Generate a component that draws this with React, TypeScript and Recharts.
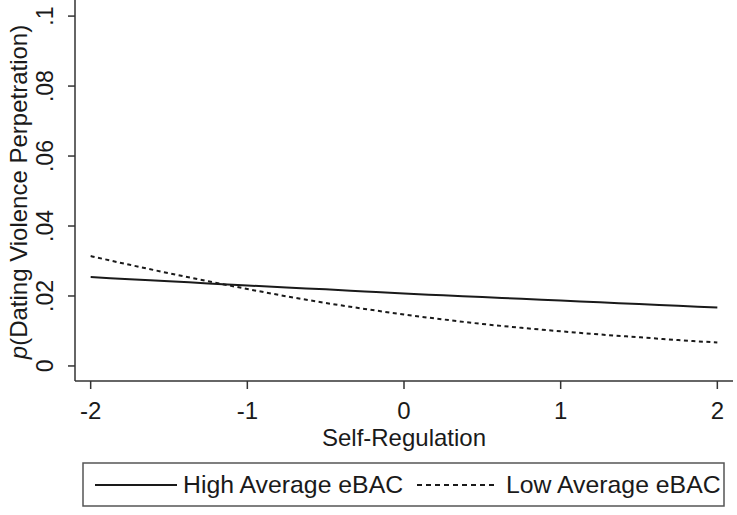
import React from 'react';
import { LineChart, Line, XAxis, YAxis, Legend, Label } from 'recharts';

// Self-regulation values (x) and predicted probabilities for the two groups
const selfRegulation = [-2, -1.75, -1.5, -1.25, -1, -0.75, -0.5, -0.25, 0, 0.25, 0.5, 0.75, 1, 1.25, 1.5, 1.75, 2];
const highAverageEbac = [0.0254, 0.0248, 0.0242, 0.0236, 0.023, 0.0224, 0.0219, 0.0213, 0.0207, 0.0202, 0.0197, 0.0192, 0.0187, 0.0182, 0.0177, 0.0172, 0.0167];
const lowAverageEbac = [0.0314, 0.0289, 0.0265, 0.0242, 0.022, 0.0199, 0.018, 0.0163, 0.0147, 0.0133, 0.012, 0.0109, 0.0099, 0.009, 0.0082, 0.0074, 0.0067];

const xTicks = [-2, -1, 0, 1, 2];
const yTicks = [0, 0.02, 0.04, 0.06, 0.08, 0.1];
const seriesNames = ['High Average eBAC', 'Low Average eBAC'];

const FONT = '"Liberation Sans", Arial, sans-serif';
const INK = '#1a1a1a';
const AXIS = '#333';

const data = selfRegulation.map((x, i) => ({
  x,
  high: highAverageEbac[i],
  low: lowAverageEbac[i],
}));

// Stata style: ".02" instead of "0.02"
const formatY = (v: number) => (v === 0 ? '0' : String(v).replace(/^0/, ''));

const RotatedYTick = (props: any) => {
  const { x, y, payload } = props;
  return (
    <text
      x={x}
      y={y}
      transform={`rotate(-90, ${x}, ${y})`}
      textAnchor="middle"
      fontFamily={FONT}
      fontSize={23}
      fill={INK}
    >
      {formatY(payload.value)}
    </text>
  );
};

const YTitle = () => (
  <text
    x={27}
    y={192}
    transform="rotate(-90, 27, 192)"
    textAnchor="middle"
    fontFamily={FONT}
    fontSize={24}
    fill={INK}
  >
    <tspan fontStyle="italic">p</tspan>
    <tspan>(Dating Violence Perpetration)</tspan>
  </text>
);

const XTitle = () => (
  <text x={404} y={446} textAnchor="middle" fontFamily={FONT} fontSize={24} fill={INK}>
    Self-Regulation
  </text>
);

const LegendBox = () => (
  <svg width={644} height={46} style={{ display: 'block' }}>
    <rect x={1} y={1} width={641} height={43} fill="#fff" stroke="#555" strokeWidth={1.5} />
    <line x1={13} y1={23} x2={95} y2={23} stroke={INK} strokeWidth={2} />
    <text x={101} y={31} fontFamily={FONT} fontSize={24.8} fill={INK}>
      {seriesNames[0]}
    </text>
    <line x1={335} y1={23} x2={415} y2={23} stroke={INK} strokeWidth={2} strokeDasharray="5 4" />
    <text x={424} y={31} fontFamily={FONT} fontSize={24.8} fill={INK}>
      {seriesNames[1]}
    </text>
  </svg>
);

const App: React.FC = () => {
  return (
    <div style={{ position: 'absolute', left: 0, top: 0, width: 737, height: 515, background: '#fff' }}>
      <LineChart
        width={737}
        height={515}
        data={data}
        margin={{ top: 0, right: 4, left: 0, bottom: 0 }}
      >
        <XAxis
          dataKey="x"
          type="number"
          domain={[-2.1, 2.1]}
          ticks={xTicks}
          allowDataOverflow
          height={134}
          tickSize={8}
          tickMargin={13}
          stroke={AXIS}
          strokeWidth={1.5}
          tick={{ fontFamily: FONT, fontSize: 24, fill: INK }}
        >
          <Label content={<XTitle />} />
        </XAxis>
        <YAxis
          type="number"
          domain={[-0.0043, 0.1046]}
          ticks={yTicks}
          allowDataOverflow
          width={75}
          tickSize={7}
          tickMargin={15}
          stroke={AXIS}
          strokeWidth={1.5}
          tick={<RotatedYTick />}
        >
          <Label content={<YTitle />} />
        </YAxis>
        <Legend
          layout="horizontal"
          verticalAlign="middle"
          align="center"
          content={<LegendBox />}
          wrapperStyle={{ position: 'absolute', left: 82, top: 462, width: 644, height: 46 }}
        />
        <Line
          type="monotone"
          dataKey="high"
          name={seriesNames[0]}
          stroke={INK}
          strokeWidth={2}
          dot={false}
          isAnimationActive={false}
        />
        <Line
          type="monotone"
          dataKey="low"
          name={seriesNames[1]}
          stroke={INK}
          strokeWidth={2}
          strokeDasharray="4 3.5"
          dot={false}
          isAnimationActive={false}
        />
      </LineChart>
    </div>
  );
};

export default App;
